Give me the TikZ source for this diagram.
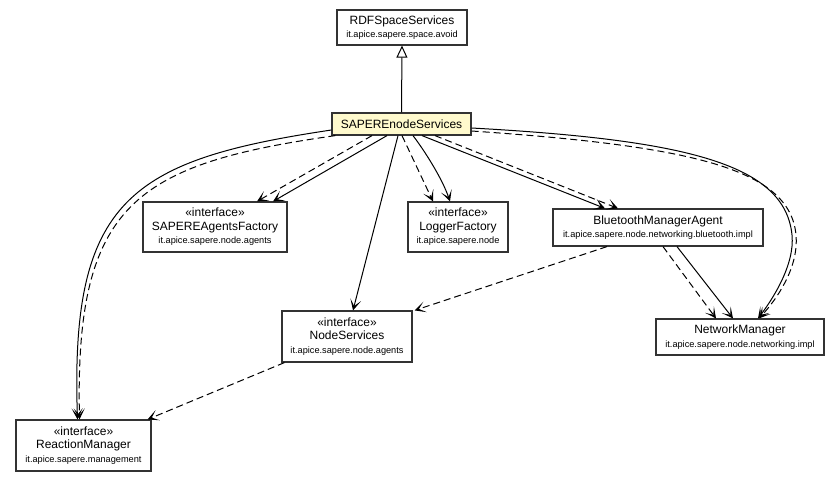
\documentclass[tikz,border=0pt]{standalone}
\usepackage{fontspec}
\setmainfont{Liberation Sans}
\usetikzlibrary{arrows.meta}
\definecolor{classfill}{RGB}{255,250,205}
\newcommand\pkgname[1]{{\fontsize{9.2}{13.5}\selectfont #1}}
\newcommand\stereotype{«interface»}

\begin{document}
\begin{tikzpicture}[x=1pt,y=-1pt,
  cls/.style={draw=black!80, line width=1.2pt, fill=white, rectangle, inner sep=0pt,
              align=center, font=\fontsize{12}{13.5}\selectfont},
  rel/.style={line width=1pt, -{Stealth[length=11pt,width=11pt,inset=6.5pt]}},
  dep/.style={rel, dash pattern=on 7pt off 4pt},
  gen/.style={line width=1pt, -{Triangle[open,length=12pt,width=11pt,fill=white]}}
]
\useasboundingbox (0,0) rectangle (840,483);
\fill[white] (0,0) rectangle (840,483);

% classes and interfaces
\node[cls, minimum width=130pt, minimum height=35pt] (rdf) at (402,27.5)
  {RDFSpaceServices\\\pkgname{it.apice.sapere.space.avoid}};
\node[cls, fill=classfill, minimum width=139pt, minimum height=22pt] (sap) at (401.5,124)
  {SAPEREnodeServices};
\node[cls, minimum width=144pt, minimum height=50pt] (fac) at (215,227)
  {\stereotype\\SAPEREAgentsFactory\\\pkgname{it.apice.sapere.node.agents}};
\node[cls, minimum width=100pt, minimum height=50pt] (log) at (458,227)
  {\stereotype\\LoggerFactory\\\pkgname{it.apice.sapere.node}};
\node[cls, minimum width=210pt, minimum height=37pt] (bt) at (658,227.5)
  {BluetoothManagerAgent\\\pkgname{it.apice.sapere.node.networking.bluetooth.impl}};
\node[cls, minimum width=130pt, minimum height=51pt] (ns) at (347,336.5)
  {\stereotype\\NodeServices\\\pkgname{it.apice.sapere.node.agents}};
\node[cls, minimum width=168pt, minimum height=36pt] (nm) at (740,337)
  {NetworkManager\\\pkgname{it.apice.sapere.node.networking.impl}};
\node[cls, minimum width=135pt, minimum height=51pt] (rm) at (83.5,445.5)
  {\stereotype\\ReactionManager\\\pkgname{it.apice.sapere.management}};

% generalisation
\draw[gen] (sap.north) -- (rdf.south);

% SAPEREnodeServices dependencies and associations
\draw[dep] ([xshift=-29.5pt]sap.south) -- ([xshift=42pt]fac.north);
\draw[rel] ([xshift=-14.5pt]sap.south) -- ([xshift=58pt]fac.north);
\draw[dep] ([xshift=0.5pt]sap.south) -- ([xshift=-25pt]log.north);
\draw[rel] ([xshift=11.5pt]sap.south) .. controls (424,150) and (442,178) .. ([xshift=-8pt]log.north);
\draw[rel] ([xshift=20.5pt]sap.south) -- ([xshift=-53pt]bt.north);
\draw[dep] ([xshift=33.5pt]sap.south) -- ([xshift=-40pt]bt.north);
\draw[rel] ([xshift=-3.5pt]sap.south) -- ([xshift=6pt]ns.north);
\draw[rel] ([yshift=-6pt]sap.west) .. controls (130,160) and (70,200) .. ([xshift=-6pt]rm.north);
\draw[dep] ([xshift=4pt]sap.south west) .. controls (135,164) and (75,204) .. ([xshift=-4pt]rm.north);
\draw[rel] ([yshift=-4pt]sap.east) .. controls (690,140) and (785,165) .. (792,235)
  .. controls (795,265) and (772,300) .. ([xshift=18pt]nm.north);
\draw[dep] ([yshift=-7pt]sap.east) .. controls (690,146) and (790,168) .. (796,235)
  .. controls (799,268) and (776,300) .. ([xshift=19pt]nm.north);

% BluetoothManagerAgent
\draw[dep] ([xshift=-51pt]bt.south) -- ([xshift=2pt]ns.north east);
\draw[dep] ([xshift=5pt]bt.south) -- ([xshift=-24pt]nm.north);
\draw[rel] ([xshift=19pt]bt.south) -- ([xshift=-7pt]nm.north);

% NodeServices
\draw[dep] ([xshift=3pt]ns.south west) -- ([xshift=-4pt]rm.north east);
\end{tikzpicture}
\end{document}
